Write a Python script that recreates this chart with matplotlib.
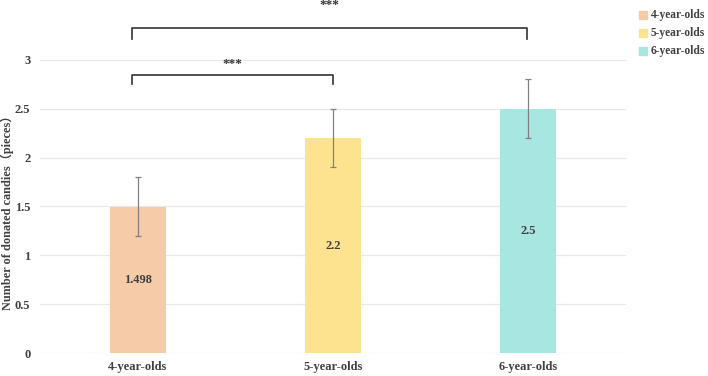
import matplotlib
matplotlib.use("Agg")
import matplotlib.pyplot as plt

categories = ["4-year-olds", "5-year-olds", "6-year-olds"]
means = [1.498, 2.2, 2.5]
labels = ["1.498", "2.2", "2.5"]
errors = [0.3, 0.3, 0.3]
yticks = [0, 0.5, 1, 1.5, 2, 2.5, 3]
ytick_labels = ["0", "0.5", "1", "1.5", "2", "2.5", "3"]
colors = ["#F6CBA8", "#FDE38F", "#A8E6E1"]

plt.rcParams['font.family'] = ['Liberation Serif', 'Noto Sans CJK SC']
txt = "#404040"

fig = plt.figure(figsize=(7.08, 3.76), dpi=100)
ax = fig.add_axes([40/708, 1-353/376, 586/708, 353/376])
x = list(range(len(categories)))
ax.set_xlim(-0.5, 2.5)
ax.set_ylim(0, 353/97.7)

for v in yticks:
    ax.axhline(v, color="#e8e8e8", lw=0.9, zorder=0)

ax.bar(x, means, width=0.287, color=colors, zorder=2)
ax.errorbar(x, means, yerr=errors, fmt="none", ecolor="#808080", elinewidth=0.9,
            capsize=2.5, capthick=0.9, zorder=3)
for xi, m, lab in zip(x, means, labels):
    ax.text(xi, m/2, lab, ha="center", va="center", fontsize=9, fontweight="bold", color=txt)

for s in ax.spines.values():
    s.set_visible(False)
ax.set_yticks(yticks)
ax.set_yticklabels(ytick_labels, fontsize=9, fontweight="bold", color=txt)
ax.set_xticks(x)
ax.set_xticklabels(categories, fontsize=9, fontweight="bold", color=txt)
ax.tick_params(axis="y", length=0, pad=7)
ax.tick_params(axis="x", length=0, pad=6)
ax.set_ylabel("Number of donated candies（pieces）", fontsize=8.8, fontweight="bold", color=txt)
ax.yaxis.set_label_coords(-0.045, 0.405)

def bracket(x0, x1, y, h, ytxt):
    ax.plot([x0, x0, x1, x1], [y-h, y, y, y-h], color="#333333", lw=1.2, clip_on=False, zorder=4)
    ax.text((x0+x1)/2, ytxt, "***", ha="center", va="center", fontsize=9.5,
            fontweight="bold", color="#333333", clip_on=False)

bracket(-0.03, 1.0, 2.845, 0.09, 2.96)
bracket(-0.03, 1.995, 3.325, 0.115, 3.56)

for i, (c, lab) in enumerate(zip(colors, categories)):
    yy = 1 - (15 + 18*i)/376
    fig.patches.append(matplotlib.patches.Rectangle((639/708, yy - 4/376), 8/708, 8/376,
                                                    transform=fig.transFigure, color=c))
    fig.text(651/708, yy, lab, fontsize=8.3, fontweight="bold", color=txt, va="center")

fig.savefig("out.png", dpi=100)
